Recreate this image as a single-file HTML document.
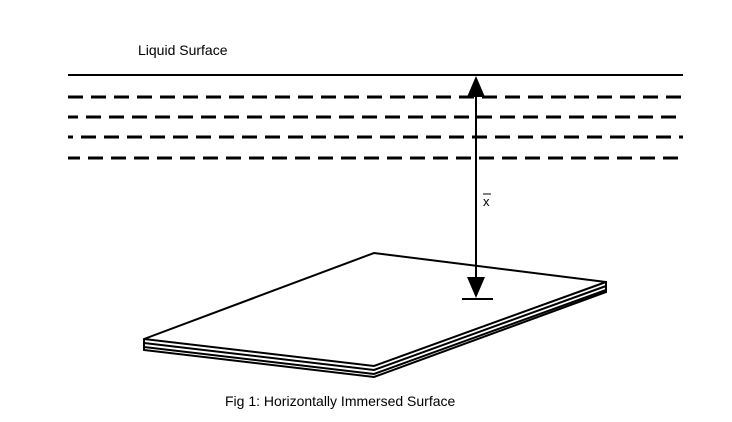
<!DOCTYPE html><html><head><style>body{margin:0;background:#fff}svg{display:block}</style></head><body>
<svg width="732" height="422" xmlns="http://www.w3.org/2000/svg" font-family="Liberation Sans, sans-serif">
<rect width="732" height="422" fill="#fff"/>
<text x="138" y="55" font-size="14">Liquid Surface</text>
<line x1="68" y1="75" x2="683" y2="75" stroke="#000" stroke-width="2"/>
<g stroke="#000" stroke-width="3" stroke-dasharray="15,8">
<line x1="68" y1="97" x2="683" y2="97"/>
<line x1="68" y1="117" x2="683" y2="117" stroke-dashoffset="5"/>
<line x1="68" y1="137" x2="683" y2="137" stroke-dashoffset="10"/>
<line x1="68" y1="158" x2="683" y2="158" stroke-dashoffset="3"/>
</g>
<polygon points="144,339 374,253 606,282 606,292 374,377 144,350" fill="#fff" stroke="#000" stroke-width="2"/>
<polyline points="144,339 374,366 606,282" fill="none" stroke="#000" stroke-width="2"/>
<polyline points="144,343 374,370 606,286" fill="none" stroke="#000" stroke-width="2"/>
<polyline points="144,347 374,374 606,290" fill="none" stroke="#000" stroke-width="2"/>
<line x1="476" y1="90" x2="476" y2="285" stroke="#000" stroke-width="2"/>
<polygon points="476,76 467,97 485,97" fill="#000"/>
<polygon points="476,298 467,277 485,277" fill="#000"/>
<line x1="462" y1="299" x2="493" y2="299" stroke="#000" stroke-width="2"/>
<text x="483" y="206" font-size="13">x</text>
<line x1="483" y1="194" x2="491" y2="194" stroke="#000" stroke-width="1"/>
<text x="225" y="406" font-size="14">Fig 1: Horizontally Immersed Surface</text>
</svg></body></html>
